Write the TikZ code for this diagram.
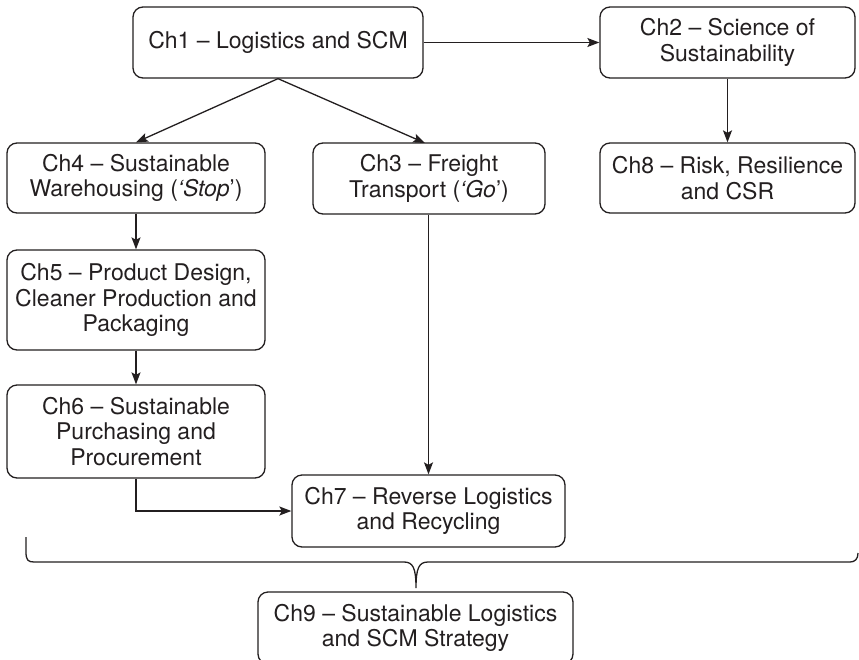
\documentclass[tikz,border=0pt]{standalone}
\usepackage{fontspec}
\setmainfont{TeX Gyre Heros}
\usetikzlibrary{arrows.meta}
\definecolor{ink}{HTML}{231F20}
\tikzset{
  box/.style={draw=ink, text=ink, line width=1.3pt, rounded corners=10pt, align=center,
    inner sep=0pt, font=\fontsize{23}{25.5}\selectfont},
  link/.style={draw=ink, line width=1.3pt, -{Stealth[length=12pt,width=9pt,inset=2.5pt]}},
  bracepath/.style={draw=ink, line width=1.3pt}
}
\begin{document}
\begin{tikzpicture}[x=1pt,y=-1pt]
\path[use as bounding box, clip] (0,0) rectangle (859,659);
\fill[white] (0,0) rectangle (859,659);
% nodes
\node[box, minimum width=290pt, minimum height=71pt] (c1) at (278,42.5) {Ch1 – Logistics and SCM};
\node[box, minimum width=255pt, minimum height=71pt] (c2) at (727.5,42.5) {Ch2 – Science of\\Sustainability};
\node[box, minimum width=255pt, minimum height=70pt] (c8) at (727.5,178) {Ch8 – Risk, Resilience\\and CSR};
\node[box, minimum width=258pt, minimum height=70pt] (c4) at (136,178) {Ch4 – Sustainable\\Warehousing (\textit{‘Stop}’)};
\node[box, minimum width=232pt, minimum height=71pt] (c3) at (429,178.5) {Ch3 – Freight\\Transport (\textit{‘Go}’)};
\node[box, minimum width=258pt, minimum height=100pt] (c5) at (136,300) {Ch5 – Product Design,\\Cleaner Production and\\Packaging};
\node[box, minimum width=258pt, minimum height=93pt] (c6) at (136,431.5) {Ch6 – Sustainable\\Purchasing and\\Procurement};
\node[box, minimum width=273pt, minimum height=72pt] (c7) at (428.5,511) {Ch7 – Reverse Logistics\\and Recycling};
\node[box, minimum width=315pt, minimum height=72pt] (c9) at (415.5,628) {Ch9 – Sustainable Logistics\\and SCM Strategy};
% connectors
\coordinate (c3in) at (425,143);
\draw[link] (c1.east) -- (c2.west);
\draw[link] (c1.south) -- (c4.north);
\draw[link] (c1.south) -- (c3in);
\draw[link] (c2.south) -- (c8.north);
\draw[link] (c4.south) -- (c5.north);
\draw[link] (c5.south) -- (c6.north);
\draw[link] (c3.south -| c7.north) -- (c7.north);
\draw[link] (c6.south) |- (c7.west);
% brace
\coordinate (bl) at (26,537);
\coordinate (br) at (858,553);
\coordinate (tip) at (416,588);
\draw[bracepath] (bl) -- (26,552) .. controls (26,560) and (28,562) .. (34,562)
  -- (404,562) .. controls (413,562) and (416,568) .. (tip)
  .. controls (416,568) and (419,562) .. (428,562)
  -- (850,562) .. controls (855,562) and (858,559) .. (br);
\end{tikzpicture}
\end{document}
